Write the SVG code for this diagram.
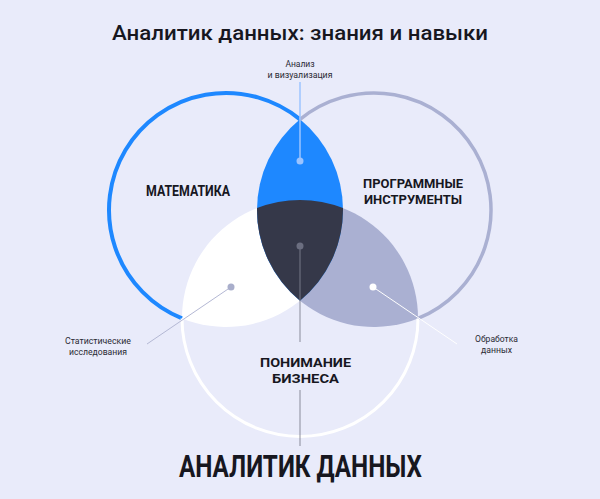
<svg xmlns="http://www.w3.org/2000/svg" width="600" height="499" viewBox="0 0 600 499">
  <style>
    .t { font-family: Roboto, "Liberation Sans", sans-serif; fill: #17171f; }
    .small { font-size: 8.5px; font-weight: 400; fill: #2a2a33; }
    .cap { font-size: 14px; font-weight: 700; }
    .cap2 { font-size: 13.5px; font-weight: 700; }
    .title { font-size: 21px; font-weight: 500; }
    .big { font-size: 31px; font-weight: 700; }
  </style>
  <rect width="600" height="499" fill="#e9ebfa"/>
  <text class="t title" x="300" y="40" text-anchor="middle" textLength="376" lengthAdjust="spacingAndGlyphs">Аналитик данных: знания и навыки</text>

  <g id="regions">
    <path id="math-business" d="M182,318.41 A118 118 0 0 1 342.98,208.11 A117 117 0 0 1 182,318.41 Z" fill="#ffffff"/>
    <path id="prog-business" d="M418,318.41 A118 118 0 0 0 257.02,208.11 A117 117 0 0 0 418,318.41 Z" fill="#aab0d2"/>
    <path id="math-prog" d="M300,119.37 A117 117 0 0 1 300,300.63 A117 117 0 0 1 300,119.37 Z" fill="#1e88ff"/>
    <path id="core" d="M257.02,208.11 A118 118 0 0 1 342.98,208.11 A117 117 0 0 1 300,300.63 A117 117 0 0 1 257.02,208.11 Z" fill="#353849"/>
  </g>

  <g id="math">
    <path d="M182,318.41 A117 117 0 1 1 300,119.37" fill="none" stroke="#1e88ff" stroke-width="4"/>
    <text class="t cap" x="188" y="196" text-anchor="middle" textLength="84" lengthAdjust="spacingAndGlyphs">МАТЕМАТИКА</text>
  </g>
  <g id="programming">
    <path d="M300,119.37 A117 117 0 1 1 418,318.41" fill="none" stroke="#aab0d2" stroke-width="3.5"/>
    <text class="t cap2" x="413" y="188" text-anchor="middle" textLength="100" lengthAdjust="spacingAndGlyphs">ПРОГРАММНЫЕ</text>
    <text class="t cap2" x="413" y="204" text-anchor="middle" textLength="98" lengthAdjust="spacingAndGlyphs">ИНСТРУМЕНТЫ</text>
  </g>
  <g id="business">
    <path d="M418,318.41 A118 118 0 0 1 182,318.41" fill="none" stroke="#ffffff" stroke-width="3"/>
    <text class="t cap2" x="305.5" y="367" text-anchor="middle" textLength="91" lengthAdjust="spacingAndGlyphs">ПОНИМАНИЕ</text>
    <text class="t cap2" x="305.5" y="383" text-anchor="middle" textLength="67" lengthAdjust="spacingAndGlyphs">БИЗНЕСА</text>
  </g>

  <g id="connectors">
    <line x1="300" y1="82" x2="300" y2="161" stroke="#9cc4ff" stroke-width="1.5"/>
    <circle cx="300" cy="161" r="3.5" fill="#9cc4ff"/>
    <line x1="300" y1="246" x2="300" y2="342" stroke="#7d7f90" stroke-opacity="0.6" stroke-width="1.5"/>
    <line x1="300" y1="390" x2="300" y2="446" stroke="#7d7f90" stroke-opacity="0.6" stroke-width="1.5"/>
    <circle cx="300" cy="246" r="3.5" fill="#6b6e80"/>
    <line x1="231" y1="287" x2="147" y2="344" stroke="#b4b8d4" stroke-width="1"/>
    <circle cx="231" cy="287" r="3.5" fill="#a9aecb"/>
    <line x1="373" y1="287" x2="457" y2="344" stroke="#ffffff" stroke-width="1"/>
    <circle cx="373" cy="287" r="3.5" fill="#ffffff"/>
  </g>

  <g id="label-analysis">
    <text class="t small" x="300" y="67" text-anchor="middle">Анализ</text>
    <text class="t small" x="300" y="78" text-anchor="middle" textLength="65" lengthAdjust="spacingAndGlyphs">и визуализация</text>
  </g>
  <g id="label-stats">
    <text class="t small" x="98" y="344" text-anchor="middle" textLength="66" lengthAdjust="spacingAndGlyphs">Статистические</text>
    <text class="t small" x="98" y="355" text-anchor="middle" textLength="58" lengthAdjust="spacingAndGlyphs">исследования</text>
  </g>
  <g id="label-processing">
    <text class="t small" x="496.5" y="342" text-anchor="middle" textLength="43" lengthAdjust="spacingAndGlyphs">Обработка</text>
    <text class="t small" x="496.5" y="353" text-anchor="middle" textLength="31" lengthAdjust="spacingAndGlyphs">данных</text>
  </g>
  <g id="label-main">
    <text class="t big" x="300.5" y="477" text-anchor="middle" textLength="243" lengthAdjust="spacingAndGlyphs">АНАЛИТИК ДАННЫХ</text>
  </g>
</svg>
